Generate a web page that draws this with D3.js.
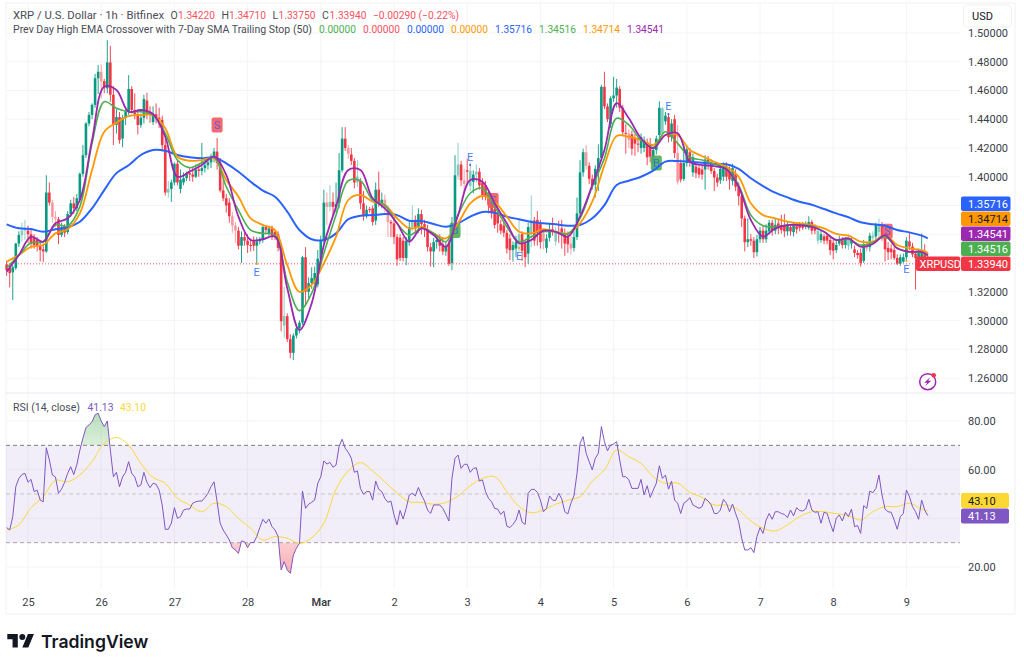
<!DOCTYPE html>
<html>
<head>
<meta charset="utf-8">
<script src="https://cdn.jsdelivr.net/npm/d3@7"></script>
<style>
  html, body { margin: 0; background: #fff; }
  svg { display: block; }
  text { font-family: Roboto, sans-serif; }
  .axis path, .axis line { display: none; }
  .axis text { font-family: Roboto, sans-serif; font-size: 11px; fill: #3b3e47; }
</style>
</head>
<body>
<script>
// hourly bars, index 0 = Feb 24 17:00
const opens = [
  1.339,1.3365,1.3335,1.3365,1.3535,1.3595,1.3625,1.3625,1.36,1.3575,
  1.356,1.3525,1.3495,1.348,1.389,1.382,1.372,1.3705,1.3595,1.365,
  1.3615,1.374,1.3815,1.378,1.384,1.402,1.415,1.437,1.443,1.45,
  1.4685,1.473,1.4665,1.4615,1.4795,1.457,1.436,1.4415,1.4265,1.441,
  1.445,1.461,1.4465,1.4435,1.436,1.441,1.453,1.4435,1.438,1.4435,
  1.441,1.4395,1.422,1.389,1.3915,1.396,1.409,1.3915,1.396,1.399,
  1.4025,1.4015,1.4,1.405,1.404,1.406,1.408,1.41,1.414,1.4175,
  1.4095,1.3905,1.385,1.382,1.3725,1.366,1.3625,1.352,1.358,1.3555,
  1.3525,1.356,1.352,1.355,1.356,1.365,1.3605,1.364,1.3615,1.36,
  1.3505,1.2965,1.303,1.287,1.2775,1.2895,1.2945,1.2985,1.344,1.32,
  1.326,1.3275,1.325,1.343,1.356,1.382,1.379,1.3825,1.379,1.3815,
  1.4045,1.4265,1.42,1.4155,1.411,1.396,1.397,1.3815,1.373,1.3775,
  1.378,1.3695,1.391,1.3815,1.384,1.3775,1.3685,1.3675,1.358,1.3575,
  1.3555,1.3435,1.3555,1.365,1.37,1.3645,1.374,1.367,1.3635,1.351,
  1.348,1.3545,1.356,1.353,1.348,1.3535,1.34,1.368,1.401,1.4085,
  1.3975,1.4045,1.3935,1.3965,1.4015,1.4035,1.396,1.394,1.388,1.382,
  1.3775,1.374,1.367,1.366,1.361,1.357,1.349,1.35,1.3545,1.36,
  1.3535,1.3465,1.3605,1.3695,1.37,1.367,1.3605,1.3505,1.3575,1.3635,
  1.355,1.361,1.364,1.3605,1.359,1.3535,1.3505,1.358,1.3745,1.403,
  1.417,1.4075,1.3985,1.3945,1.4055,1.413,1.4625,1.449,1.4365,1.4545,
  1.4565,1.461,1.448,1.4305,1.43,1.4295,1.4265,1.423,1.42,1.42,
  1.424,1.4225,1.409,1.4185,1.429,1.43,1.4385,1.4415,1.4275,1.44,
  1.4165,1.4095,1.3985,1.4095,1.417,1.403,1.407,1.406,1.405,1.405,
  1.412,1.41,1.404,1.3995,1.3975,1.4,1.407,1.404,1.397,1.402,
  1.393,1.3865,1.371,1.3545,1.3565,1.3555,1.3475,1.3565,1.3625,1.3565,
  1.362,1.368,1.3625,1.3675,1.366,1.366,1.362,1.365,1.3615,1.3655,
  1.366,1.3665,1.365,1.3645,1.3685,1.3655,1.3555,1.356,1.3585,1.359,
  1.356,1.354,1.349,1.3535,1.356,1.3525,1.352,1.3535,1.3495,1.347,
  1.347,1.3415,1.3525,1.351,1.3575,1.3585,1.3615,1.367,1.358,1.3505,
  1.35,1.349,1.3435,1.3395,1.341,1.344,1.355,1.3515,1.3465,1.3435,
  1.3435,1.347,1.3422
];
const highs = [
  1.3415,1.3385,1.3385,1.354,1.362,1.368,1.37,1.366,1.363,1.36,
  1.358,1.355,1.3535,1.401,1.396,1.384,1.376,1.372,1.368,1.367,
  1.376,1.384,1.386,1.388,1.403,1.422,1.438,1.445,1.451,1.4715,
  1.4777,1.478,1.468,1.495,1.491,1.463,1.447,1.445,1.443,1.447,
  1.4707,1.463,1.458,1.4465,1.444,1.457,1.4585,1.449,1.449,1.451,
  1.448,1.4425,1.428,1.397,1.398,1.41,1.412,1.405,1.403,1.4035,
  1.406,1.4065,1.4085,1.409,1.4235,1.411,1.413,1.416,1.42,1.427,
  1.413,1.398,1.388,1.385,1.3755,1.3685,1.365,1.362,1.361,1.36,
  1.357,1.3585,1.358,1.358,1.367,1.3665,1.366,1.366,1.3625,1.362,
  1.353,1.3235,1.305,1.2905,1.291,1.2975,1.3,1.345,1.351,1.33,
  1.337,1.3375,1.349,1.359,1.391,1.389,1.394,1.389,1.396,1.4165,
  1.4345,1.4345,1.422,1.42,1.413,1.4115,1.399,1.39,1.38,1.379,
  1.38,1.396,1.4035,1.389,1.3875,1.38,1.37,1.372,1.36,1.36,
  1.358,1.358,1.369,1.38,1.373,1.378,1.377,1.37,1.3665,1.354,
  1.3575,1.36,1.36,1.358,1.355,1.358,1.372,1.415,1.4235,1.411,
  1.4055,1.4125,1.41,1.4045,1.4085,1.406,1.399,1.397,1.39,1.385,
  1.3805,1.377,1.37,1.369,1.363,1.36,1.355,1.359,1.37,1.362,
  1.356,1.368,1.387,1.372,1.376,1.37,1.3635,1.36,1.367,1.3715,
  1.365,1.3695,1.37,1.364,1.362,1.36,1.362,1.3855,1.4115,1.4195,
  1.422,1.41,1.4015,1.408,1.4225,1.464,1.473,1.451,1.456,1.4695,
  1.468,1.463,1.45,1.4365,1.433,1.432,1.43,1.4275,1.43,1.428,
  1.4265,1.427,1.42,1.4285,1.4525,1.4485,1.445,1.444,1.44,1.443,
  1.436,1.412,1.4225,1.422,1.42,1.416,1.41,1.408,1.408,1.415,
  1.4145,1.412,1.406,1.402,1.408,1.41,1.41,1.407,1.409,1.405,
  1.396,1.389,1.373,1.371,1.36,1.358,1.3595,1.365,1.366,1.367,
  1.37,1.37,1.371,1.37,1.3735,1.374,1.369,1.367,1.368,1.368,
  1.3685,1.3685,1.369,1.3725,1.37,1.367,1.365,1.3625,1.36,1.361,
  1.358,1.356,1.356,1.359,1.358,1.358,1.36,1.358,1.352,1.349,
  1.35,1.356,1.355,1.361,1.362,1.368,1.371,1.3685,1.361,1.3545,
  1.353,1.3515,1.346,1.346,1.3465,1.358,1.3615,1.354,1.348,1.35,
  1.3605,1.353,1.3471
];
const lows = [
  1.331,1.323,1.3142,1.335,1.351,1.355,1.356,1.354,1.35,1.35,
  1.348,1.341,1.3405,1.347,1.38,1.368,1.365,1.353,1.358,1.358,
  1.36,1.372,1.374,1.376,1.382,1.4,1.413,1.435,1.44,1.448,
  1.4575,1.4545,1.458,1.458,1.452,1.422,1.43,1.423,1.4205,1.436,
  1.443,1.444,1.44,1.4295,1.434,1.437,1.44,1.4375,1.436,1.437,
  1.434,1.4175,1.387,1.3855,1.3825,1.394,1.394,1.3885,1.394,1.397,
  1.397,1.3965,1.399,1.4,1.401,1.403,1.405,1.406,1.41,1.405,
  1.389,1.383,1.375,1.368,1.361,1.354,1.3495,1.34,1.352,1.347,
  1.348,1.3485,1.339,1.353,1.354,1.36,1.358,1.356,1.356,1.348,
  1.2925,1.288,1.285,1.2738,1.2725,1.2875,1.291,1.297,1.31,1.315,
  1.322,1.325,1.323,1.341,1.354,1.3665,1.376,1.373,1.375,1.378,
  1.403,1.418,1.4125,1.408,1.392,1.393,1.3775,1.3695,1.371,1.375,
  1.366,1.3665,1.379,1.378,1.375,1.358,1.358,1.353,1.338,1.3415,
  1.341,1.3385,1.352,1.362,1.36,1.361,1.36,1.358,1.348,1.3375,
  1.337,1.35,1.348,1.3455,1.345,1.338,1.335,1.365,1.398,1.3935,
  1.3885,1.3955,1.39,1.3885,1.396,1.391,1.384,1.3835,1.3745,1.371,
  1.364,1.361,1.36,1.358,1.3465,1.342,1.341,1.344,1.348,1.3415,
  1.337,1.3395,1.351,1.352,1.352,1.35,1.3495,1.347,1.355,1.359,
  1.352,1.354,1.35,1.345,1.347,1.346,1.348,1.356,1.372,1.4,
  1.405,1.395,1.391,1.3855,1.39,1.411,1.447,1.438,1.434,1.452,
  1.448,1.445,1.428,1.416,1.42,1.415,1.4145,1.417,1.416,1.417,
  1.408,1.41,1.404,1.4155,1.425,1.428,1.436,1.424,1.4245,1.413,
  1.3945,1.396,1.397,1.407,1.407,1.4,1.399,1.399,1.398,1.391,
  1.405,1.402,1.39,1.393,1.395,1.397,1.397,1.391,1.394,1.39,
  1.38,1.365,1.348,1.351,1.352,1.3435,1.3445,1.354,1.354,1.354,
  1.36,1.359,1.36,1.36,1.3605,1.358,1.359,1.359,1.3585,1.3605,
  1.362,1.363,1.3635,1.363,1.36,1.36,1.353,1.354,1.353,1.353,
  1.3455,1.3425,1.347,1.352,1.35,1.35,1.349,1.35,1.344,1.343,
  1.3375,1.34,1.348,1.348,1.355,1.356,1.358,1.3555,1.341,1.342,
  1.3425,1.342,1.3385,1.338,1.34,1.342,1.349,1.344,1.3215,1.341,
  1.3415,1.34,1.3375
];
const closes = [
  1.335,1.333,1.337,1.3535,1.3595,1.3625,1.3635,1.36,1.3535,1.3525,
  1.3525,1.349,1.348,1.389,1.382,1.372,1.371,1.3595,1.365,1.361,
  1.374,1.3815,1.378,1.385,1.402,1.415,1.437,1.443,1.45,1.4685,
  1.473,1.4665,1.462,1.4795,1.457,1.436,1.4415,1.4255,1.441,1.4455,
  1.461,1.4465,1.4435,1.436,1.441,1.454,1.4435,1.443,1.4435,1.441,
  1.4395,1.422,1.389,1.3915,1.396,1.409,1.396,1.398,1.399,1.4025,
  1.4015,1.4,1.405,1.404,1.406,1.408,1.41,1.414,1.4175,1.4095,
  1.3905,1.385,1.38,1.3725,1.366,1.3625,1.352,1.358,1.3555,1.3525,
  1.352,1.352,1.355,1.356,1.365,1.363,1.364,1.358,1.358,1.3505,
  1.2995,1.303,1.287,1.2775,1.2895,1.2945,1.2985,1.344,1.32,1.326,
  1.3295,1.333,1.343,1.356,1.382,1.379,1.3825,1.379,1.381,1.4045,
  1.4265,1.42,1.416,1.411,1.396,1.4,1.3815,1.373,1.377,1.377,
  1.3685,1.391,1.3815,1.384,1.3775,1.3685,1.3675,1.358,1.3425,1.3435,
  1.3435,1.3555,1.365,1.37,1.364,1.374,1.367,1.3635,1.351,1.348,
  1.3545,1.356,1.352,1.348,1.3515,1.3395,1.368,1.401,1.4085,1.3975,
  1.395,1.4035,1.404,1.4015,1.4035,1.394,1.387,1.3865,1.3805,1.3745,
  1.3665,1.3675,1.3625,1.361,1.35,1.349,1.3525,1.3545,1.36,1.3485,
  1.344,1.365,1.37,1.3555,1.361,1.3545,1.355,1.357,1.3635,1.362,
  1.3625,1.3605,1.3605,1.3535,1.353,1.35,1.358,1.3745,1.403,1.417,
  1.4075,1.3985,1.394,1.4055,1.413,1.4625,1.449,1.44,1.4545,1.4565,
  1.462,1.448,1.431,1.43,1.4255,1.4195,1.423,1.4225,1.4275,1.4255,
  1.4135,1.414,1.4185,1.4265,1.448,1.4475,1.4425,1.4275,1.437,1.4165,
  1.3965,1.398,1.4095,1.419,1.4095,1.4135,1.4025,1.4015,1.4015,1.412,
  1.41,1.404,1.3995,1.396,1.4055,1.407,1.4,1.398,1.406,1.393,
  1.3865,1.371,1.3545,1.3565,1.3555,1.3475,1.3565,1.3625,1.3565,1.3625,
  1.368,1.3625,1.3665,1.364,1.363,1.362,1.3665,1.362,1.366,1.3635,
  1.3645,1.3645,1.367,1.3685,1.3625,1.3625,1.3625,1.36,1.3555,1.3555,
  1.349,1.3485,1.3525,1.356,1.3525,1.356,1.357,1.356,1.347,1.3455,
  1.34,1.3525,1.35,1.359,1.359,1.3665,1.367,1.358,1.3495,1.3475,
  1.3475,1.3435,1.3395,1.344,1.344,1.3555,1.3515,1.346,1.3435,1.347,
  1.347,1.3425,1.3394
];
// bars that look washed out in the picture
const paleBars = [5,6,15,16,31,53,74,75,91,105,106,112,115,124,125,133,148,150,152,154,168,172,176,180,185,190,204,215,220,266,276,282,284,286];

// indicator lines are read every 4th bar, plus the last one
const lineHours = [
  0,4,8,12,16,20,24,28,32,36,40,44,48,52,56,60,64,68,72,76,
  80,84,88,92,96,100,104,108,112,116,120,124,128,132,136,140,144,148,152,156,
  160,164,168,172,176,180,184,188,192,196,200,204,208,212,216,220,224,228,232,236,
  240,244,248,252,256,260,264,268,272,276,280,284,288,292,296,300,302
];
const slowLine = [
  1.3669,1.3641,1.3636,1.3617,1.3634,1.3648,1.3687,1.378,1.3907,1.4025,1.408,1.4151,1.4186,1.4181,1.4151,1.4135,1.4128,1.4135,1.4093,1.4035,
  1.3965,1.3903,1.3861,1.3757,1.3629,1.3565,1.356,1.3606,1.3704,1.3729,1.3733,1.374,1.3733,1.3694,1.3692,1.3671,1.3652,1.3676,1.3722,1.3755,
  1.375,1.3722,1.3704,1.3685,1.3676,1.3669,1.3659,1.3664,1.3711,1.3803,1.3942,1.3972,1.4,1.4042,1.4105,1.4109,1.4104,1.4097,1.4088,1.4086,
  1.4054,1.3989,1.3935,1.3889,1.3856,1.3826,1.3805,1.3775,1.3745,1.3718,1.3683,1.3669,1.3659,1.3629,1.3613,1.359,1.35716
];
const orangeLine = [
  1.3409,1.3455,1.3513,1.3525,1.3606,1.3634,1.3745,1.4047,1.4313,1.4376,1.4422,1.4429,1.4429,1.4337,1.4139,1.4111,1.4116,1.4128,1.3977,1.3861,
  1.3711,1.3664,1.3629,1.3386,1.32,1.3247,1.3398,1.3583,1.3838,1.3873,1.3826,1.3803,1.3711,1.3641,1.3652,1.3606,1.3571,1.3676,1.3815,1.3866,
  1.3826,1.3722,1.3617,1.3606,1.3636,1.3617,1.3606,1.3676,1.3826,1.4081,1.4283,1.4278,1.4255,1.4221,1.429,1.429,1.4186,1.4144,1.4104,1.407,
  1.4,1.3815,1.3733,1.3711,1.3687,1.3676,1.3664,1.3641,1.3602,1.359,1.3548,1.3548,1.3594,1.3525,1.3502,1.349,1.34714
];
const greenLine = [
  1.3365,1.3455,1.3541,1.3548,1.3664,1.3657,1.3792,1.4232,1.4522,1.4476,1.4452,1.4452,1.4429,1.4302,1.4116,1.4063,1.4097,1.4135,1.393,1.3768,
  1.3629,1.3606,1.3594,1.327,1.3068,1.3189,1.3467,1.3733,1.3972,1.3972,1.3838,1.3803,1.3676,1.3594,1.3641,1.3606,1.3548,1.3733,1.3885,1.3919,
  1.3792,1.3652,1.3548,1.3583,1.3617,1.3617,1.3602,1.3711,1.393,1.4128,1.4406,1.436,1.4255,1.4205,1.4313,1.4232,1.4135,1.4116,1.4088,1.4058,
  1.3942,1.3733,1.3659,1.3652,1.3664,1.3664,1.3657,1.3617,1.356,1.3565,1.3525,1.3541,1.3583,1.3502,1.3478,1.3471,1.34516
];
const purpleLine = [
  1.3339,1.3455,1.3583,1.3548,1.3676,1.3711,1.3838,1.4255,1.4626,1.4603,1.4452,1.4464,1.4436,1.4278,1.4,1.4035,1.4081,1.4139,1.4012,1.3722,
  1.356,1.3565,1.3583,1.3224,1.2933,1.3119,1.3525,1.3792,1.4047,1.4047,1.385,1.378,1.3676,1.3548,1.3641,1.3594,1.3513,1.3733,1.3977,1.3965,
  1.3815,1.3676,1.3537,1.356,1.3625,1.3617,1.3583,1.3722,1.3942,1.4186,1.4511,1.4406,1.4267,1.4197,1.429,1.4302,1.4104,1.4081,1.4074,1.4051,
  1.393,1.3699,1.3583,1.3641,1.3664,1.3664,1.3652,1.3617,1.356,1.3571,1.3513,1.3532,1.3594,1.3502,1.3478,1.3478,1.34541
];
const rsiValues = [
  36.2,35.2,40.7,53,56.4,58,58.5,54.8,56,51,
  51.6,47.5,46.8,69,64,57.8,57,50.3,52,54.8,
  58.5,61.2,58,62,68,72.9,77.3,78.4,79.7,82.5,
  83.2,80,77.7,80,68,57.1,58.9,53,57,58.9,
  63.3,58.5,57,53,53.7,58.9,54.8,52.6,54.4,54,
  51.6,45.5,35.5,35.5,38,44.4,40,40.7,43.4,43.8,
  43.8,46.2,46.8,47.1,47.1,48.5,50.3,53,55,46.8,
  38,35.2,33.2,31.1,27.9,27,25.6,30.7,30.4,28,
  30.1,30,32.5,36.2,39.6,38,39.7,36.6,35.2,32.5,
  18.8,22.2,18.8,17.4,24.9,27.7,29.7,51.2,44.1,45.8,
  46.6,47.5,54.4,57.1,63.6,62.3,63,61,61.9,69.5,
  72.5,68.8,67.1,64.7,58.9,59.5,52.3,49.9,51,51,
  47.5,55.3,51.9,51,48.2,46.6,47.1,41.4,37.3,43.2,
  39.7,44.1,49.6,50.3,49.2,52.7,49.6,47.1,43.4,42,
  45.5,45.5,45.5,44.1,41.6,38.9,56.4,64.7,66,60.5,
  62.2,62.2,58.9,60.5,60.8,55.3,55.8,51,48.2,46.8,
  44.1,43.8,41.6,43,36.8,36.2,37.5,39.3,43.4,38.4,
  37.5,50.3,51.9,51.9,50.7,47.5,42.7,44.1,49.2,47.5,
  47.3,50.3,48,42.7,41.8,46.2,49.2,58.5,70.8,73.6,
  66.7,63.3,59.9,64.7,66.7,77.7,71.5,67.7,70.1,70.5,
  71.5,64,57.1,57.1,55.8,52.3,52.3,52.3,56,49.6,
  53.4,48.6,51.6,54.4,61.6,56.4,57.8,52,55.3,47.5,
  46.2,42,46.2,47.1,48.5,45.5,44.8,44.1,44.8,48.2,
  47.1,45.5,42,42,43.4,47.8,46.2,42.7,45.9,42,
  38.6,31.8,27,27,27.9,25.9,32.5,36.2,33.8,39.3,
  42,39.6,42.7,42.7,42,41.6,40.3,43.4,41,44.4,
  43.2,43,43.8,47.8,43.4,42.5,42.7,38,42.5,42,
  38,34.5,40,41.4,38.9,42.5,40.7,43.8,36.6,37,
  33.8,45.2,44.1,51.2,50.5,52.3,57.8,49.6,43.8,42.7,
  42.5,39.3,35.5,40.7,42,51.6,48.9,44.8,42.7,39.6,
  47.5,43.4,41.13
];
const rsiAverage = [
  35.2,37.3,44.4,48.9,55.6,55,57.8,63.3,70.8,73.2,70.1,62.6,56.8,54.4,48.2,45.5,42.7,46.2,44.8,40,
  35.9,31.1,32.5,31.8,29.7,32,38,52,59.5,62.9,59.5,55,50.3,46.8,46.6,45.8,46.5,49.2,53.4,56.4,
  57.1,51,44.8,42.3,43.4,45.8,47.4,48.9,55.3,59.9,68.1,65.3,62.6,57.1,54.4,54.5,50.7,48.6,45.5,45.5,
  43.4,38.9,35.9,34.8,37.3,40.7,42.7,42.7,41.9,41.1,39.3,42.7,44.8,44.8,46.2,43.8,43.1
];

// only these stretches of the rsi carry the overbought / oversold fill
const overboughtBars = [24, 35];
const oversoldBars = [73, 97];

const priceTicks = [1.26,1.28,1.30,1.32,1.34,1.36,1.38,1.40,1.42,1.44,1.46,1.48,1.50];
const priceTickLabels = [1.26,1.28,1.30,1.32,1.40,1.42,1.44,1.46,1.48,1.50];
const rsiTicks = [20,40,60,80];
const rsiTickLabels = [20,60,80];
const dayHours = [7,31,55,79,103,127,151,175,199,223,247,271,295];
const dayLabels = ['25','26','27','28','Mar','2','3','4','5','6','7','8','9'];

const signalLetters = ['S','B','S','B','S'];
const signalHours = [69,147,159.5,213,288.7];
const signalPrices = [1.436,1.3626,1.3835,1.4095,1.362];

const exitHours = [82,152,168,217,295];
const exitPrices = [1.3393,1.4081,1.3504,1.4436,1.3414];
const exitBelow = [true,false,true,false,true];

const priceLabels = ['1.35716','1.34714','1.34541','1.34516','1.33940'];
const priceLabelColors = ['#2962ff','#ff9800','#9c27b0','#4caf50','#f23645'];
const priceLabelText = ['#fff','#131722','#fff','#fff','#fff'];

const up = '#089981', down = '#f23645', gridColor = '#f3f4f6';
const width = 1024, height = 668;
const left = 6, plotRight = 960, frameRight = 1015, frameTop = 3, frameBottom = 614, split = 393, timeTop = 589;

let svg = d3.select('body').append('svg').attr('width', width).attr('height', height);

let x = d3.scaleLinear().domain([0, 302]).range([6.65, 927.75]);
let y = d3.scaleLinear().domain([1.26, 1.48]).range([378, 61.7]);
let yRsi = d3.scaleLinear().domain([20, 80]).range([567, 421]);

// frame
svg.append('rect').attr('x', left).attr('y', frameTop).attr('width', frameRight - left).attr('height', frameBottom - frameTop)
  .attr('fill', 'none').attr('stroke', '#f0f1f3');

// grid
let grid = svg.append('g').attr('stroke', gridColor);
grid.selectAll('.v').data(dayHours).enter().append('line')
  .attr('x1', d => x(d)).attr('x2', d => x(d)).attr('y1', frameTop).attr('y2', timeTop);
grid.selectAll('.h').data(priceTicks).enter().append('line')
  .attr('x1', left).attr('x2', plotRight).attr('y1', d => y(d)).attr('y2', d => y(d));
grid.selectAll('.r').data(rsiTicks).enter().append('line')
  .attr('x1', left).attr('x2', plotRight).attr('y1', d => yRsi(d)).attr('y2', d => yRsi(d));

// rsi band
svg.append('rect').attr('x', left).attr('width', plotRight - left)
  .attr('y', yRsi(70)).attr('height', yRsi(30) - yRsi(70)).attr('fill', '#7e57c2').attr('opacity', 0.1);
[[70, '#787b86'], [50, '#c3c5ca'], [30, '#a5a7ad']].forEach(d => {
  svg.append('line').attr('x1', left).attr('x2', plotRight).attr('y1', yRsi(d[0])).attr('y2', yRsi(d[0]))
    .attr('stroke', d[1]).attr('stroke-width', 1).attr('stroke-dasharray', '4 3');
});

// pane separator
svg.append('line').attr('x1', left).attr('x2', frameRight).attr('y1', split).attr('y2', split).attr('stroke', '#e9e9f1');

// candles
let bars = svg.append('g').selectAll('g').data(d3.range(opens.length)).enter().append('g')
  .attr('opacity', d => paleBars.includes(d) ? 0.5 : 1);
bars.append('line')
  .attr('x1', d => x(d)).attr('x2', d => x(d))
  .attr('y1', d => y(highs[d])).attr('y2', d => y(lows[d]))
  .attr('stroke', d => closes[d] >= opens[d] ? up : down).attr('stroke-width', 0.9);
bars.append('rect')
  .attr('x', d => x(d) - 1.3).attr('width', 2.6)
  .attr('y', d => y(Math.max(opens[d], closes[d])))
  .attr('height', d => Math.max(1, Math.abs(y(opens[d]) - y(closes[d]))))
  .attr('fill', d => closes[d] >= opens[d] ? up : down);

// last price line
svg.append('line').attr('x1', left).attr('x2', plotRight).attr('y1', y(1.3394)).attr('y2', y(1.3394))
  .attr('stroke', down).attr('stroke-opacity', 0.8).attr('stroke-dasharray', '1 2');

// signal boxes
let signals = svg.append('g').selectAll('g').data(signalLetters).enter().append('g')
  .attr('transform', (d, i) => `translate(${x(signalHours[i])},${y(signalPrices[i])})`);
signals.append('rect').attr('x', -5.5).attr('y', -7.5).attr('width', 11).attr('height', 15).attr('rx', 2)
  .attr('fill', d => d === 'S' ? '#f5565f' : '#4caf50').attr('fill-opacity', 0.9);
signals.append('text').attr('text-anchor', 'middle').attr('y', 4).attr('font-size', 11)
  .attr('fill', '#2962ff').attr('fill-opacity', 0.8).text(d => d);

// indicator lines
function drawLine(values, color, w) {
  let line = d3.line().x((d, i) => x(lineHours[i])).y(d => y(d)).curve(d3.curveCatmullRom);
  svg.append('path').attr('d', line(values)).attr('fill', 'none').attr('stroke', color).attr('stroke-width', w);
}
drawLine(slowLine, '#2962ff', 2);
drawLine(orangeLine, '#ff9800', 1.8);
drawLine(greenLine, '#4caf50', 1.6);
drawLine(purpleLine, '#9c27b0', 1.8);

// exit marks
exitHours.forEach((h, i) => {
  let cy = y(exitPrices[i]);
  svg.append('circle').attr('cx', x(h)).attr('cy', cy).attr('r', 1).attr('fill', exitBelow[i] ? '#ff9800' : '#2962ff');
  svg.append('text').attr('x', x(h)).attr('y', exitBelow[i] ? cy + 12 : cy - 4).attr('text-anchor', 'middle')
    .attr('font-size', 11).attr('fill', '#2962ff').attr('fill-opacity', 0.85).text('E');
});

// rsi gradients, zones above 70 and below 30
let defs = svg.append('defs');
let gradUp = defs.append('linearGradient').attr('id', 'gradUp').attr('x1', 0).attr('x2', 0).attr('y1', 0).attr('y2', 1);
gradUp.append('stop').attr('offset', 0).attr('stop-color', '#4caf50').attr('stop-opacity', 0.4);
gradUp.append('stop').attr('offset', 1).attr('stop-color', '#4caf50').attr('stop-opacity', 0);
let gradDown = defs.append('linearGradient').attr('id', 'gradDown').attr('x1', 0).attr('x2', 0).attr('y1', 0).attr('y2', 1);
gradDown.append('stop').attr('offset', 0).attr('stop-color', '#f23645').attr('stop-opacity', 0);
gradDown.append('stop').attr('offset', 1).attr('stop-color', '#f23645').attr('stop-opacity', 0.4);
defs.append('clipPath').attr('id', 'clipUp').append('rect').attr('x', left).attr('width', plotRight - left)
  .attr('y', yRsi(85)).attr('height', yRsi(70) - yRsi(85));
defs.append('clipPath').attr('id', 'clipDown').append('rect').attr('x', left).attr('width', plotRight - left)
  .attr('y', yRsi(30)).attr('height', yRsi(15) - yRsi(30));
let areaUp = d3.area().x((d, i) => x(i)).y0(yRsi(70)).y1(d => yRsi(d))
  .defined((d, i) => i >= overboughtBars[0] && i <= overboughtBars[1]);
let areaDown = d3.area().x((d, i) => x(i)).y0(yRsi(30)).y1(d => yRsi(d))
  .defined((d, i) => i >= oversoldBars[0] && i <= oversoldBars[1]);
svg.append('path').attr('d', areaUp(rsiValues)).attr('fill', 'url(#gradUp)').attr('clip-path', 'url(#clipUp)');
svg.append('path').attr('d', areaDown(rsiValues)).attr('fill', 'url(#gradDown)').attr('clip-path', 'url(#clipDown)');

let rsiLine = d3.line().x((d, i) => x(i)).y(d => yRsi(d));
let avgLine = d3.line().x((d, i) => x(lineHours[i])).y(d => yRsi(d)).curve(d3.curveCatmullRom);
svg.append('path').attr('d', avgLine(rsiAverage)).attr('fill', 'none').attr('stroke', '#fdd835').attr('stroke-width', 1);
svg.append('path').attr('d', rsiLine(rsiValues)).attr('fill', 'none').attr('stroke', '#7e57c2').attr('stroke-width', 1);

// axes, the ticks hidden behind the price labels get no text
svg.append('g').attr('class', 'axis').attr('transform', `translate(${plotRight + 2},0)`)
  .call(d3.axisRight(y).tickValues(priceTickLabels).tickSize(0).tickPadding(6).tickFormat(d3.format('.5f')));
svg.append('g').attr('class', 'axis').attr('transform', `translate(${plotRight + 2},0)`)
  .call(d3.axisRight(yRsi).tickValues(rsiTickLabels).tickSize(0).tickPadding(6).tickFormat(d3.format('.2f')));
let timeAxis = svg.append('g').attr('class', 'axis').attr('transform', 'translate(0,593)')
  .call(d3.axisBottom(x).tickValues(dayHours).tickSize(0).tickPadding(5).tickFormat((d, i) => dayLabels[i]));
timeAxis.selectAll('text').attr('font-weight', (d, i) => dayLabels[i] === 'Mar' ? 600 : 400);

// price labels on the axis
function axisLabel(text, boxTop, h, lx, lw, fill, color, anchorX) {
  svg.append('rect').attr('x', lx).attr('y', boxTop).attr('width', lw).attr('height', h).attr('rx', 2).attr('fill', fill);
  svg.append('text').attr('x', anchorX).attr('y', boxTop + h / 2 + 4).attr('font-size', 11).attr('fill', color).text(text);
}
priceLabels.forEach((d, i) => {
  axisLabel(d, 196.5 + i * 15, 14.4, 961, 49.5, priceLabelColors[i], priceLabelText[i], 968);
});
axisLabel('XRPUSD', 256.5, 14.4, 916, 44.2, '#f23645', '#fff', 919.5);
axisLabel('43.10', 493, 15, 961, 48, '#fdd835', '#131722', 968);
axisLabel('41.13', 508.5, 15, 961, 48, '#7e57c2', '#fff', 968);

// usd box, it sits over the top tick
svg.append('rect').attr('x', 963.5).attr('y', 5).attr('width', 48).attr('height', 22).attr('rx', 4)
  .attr('fill', '#fff').attr('stroke', '#f0f1f3');
svg.append('text').attr('x', 972).attr('y', 20).attr('font-size', 11).attr('fill', '#131722').text('USD');

// legend, long strings get a fixed length to sit like the picture
function legend(yPos, items) {
  items.forEach(d => {
    let t = svg.append('text').attr('x', d[0]).attr('y', yPos).attr('font-size', 10.5).attr('fill', d[2]).text(d[1]);
    if (d[3]) t.attr('textLength', d[3]).attr('lengthAdjust', 'spacingAndGlyphs');
  });
}
const dark = '#4a4d57', red = '#f7525f';
legend(18.5, [
  [13, 'XRP / U.S. Dollar · 1h · Bitfinex', dark, 151],
  [170.5, 'O', dark], [178, '1.34220', red, 37],
  [221.5, 'H', dark], [229, '1.34710', red, 37],
  [272.5, 'L', dark], [278.5, '1.33750', red, 37],
  [322, 'C', dark], [329.5, '1.33940', red, 37],
  [373, '−0.00290 (−0.22%)', red, 86]
]);
legend(33, [
  [13, 'Prev Day High EMA Crossover with 7-Day SMA Trailing Stop (50)', dark, 299],
  [319, '0.00000', '#4caf50', 37], [363, '0.00000', '#f7525f', 37], [407, '0.00000', '#2962ff', 37], [451, '0.00000', '#ff9800', 37],
  [495, '1.35716', '#2962ff', 37], [539, '1.34516', '#4caf50', 37], [583, '1.34714', '#ff9800', 37], [627, '1.34541', '#9c27b0', 37]
]);
legend(411, [
  [13, 'RSI (14, close)', dark, 67], [87.5, '41.13', '#7e57c2', 26], [120, '43.10', '#fdd835', 26]
]);

// lightning badge
let badge = svg.append('g').attr('transform', 'translate(927.7,381.7)');
badge.append('circle').attr('r', 8).attr('fill', 'none').attr('stroke', '#9c27b0').attr('stroke-width', 1.5);
badge.append('path').attr('d', 'M2.5 -4.5 L-3.5 1 L-0.5 1 L-2.5 4.5 L3.5 -1 L0.5 -1 Z').attr('fill', '#9c27b0');
badge.append('circle').attr('cx', 6).attr('cy', -6.5).attr('r', 2.3).attr('fill', '#f23645');

// logo
let logo = svg.append('g').attr('transform', 'translate(7.3,631) scale(0.75)').attr('fill', '#131722');
logo.append('path').attr('d', 'M14 22H7V11H0V4h14v18zM28 22h-8l7.5-18h8L28 22z');
logo.append('circle').attr('cx', 20).attr('cy', 8).attr('r', 4);
svg.append('text').attr('x', 41).attr('y', 648).attr('font-size', 17.6)
  .attr('font-weight', 600).attr('fill', '#131722').style('font-family', 'Inter, sans-serif').text('TradingView');
</script>
</body>
</html>
